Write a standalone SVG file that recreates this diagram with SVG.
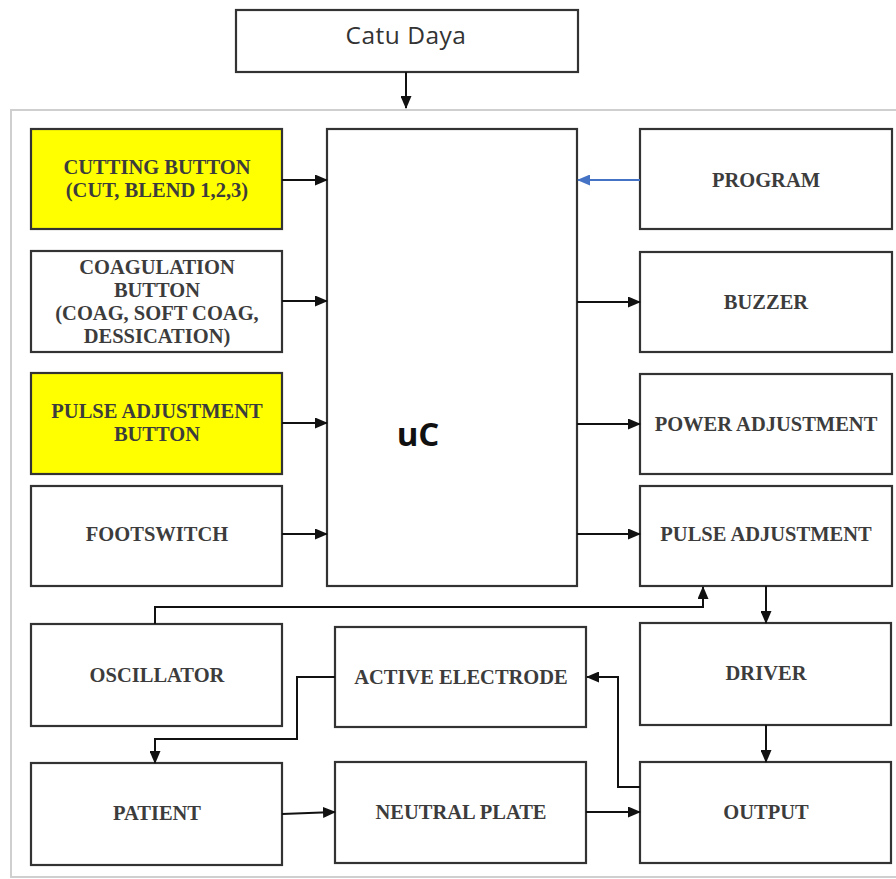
<svg xmlns="http://www.w3.org/2000/svg" width="896" height="879" viewBox="0 0 896 879">
<style>
.box{fill:#fff;stroke:#333;stroke-width:2.2}
.yel{fill:#ffff00;stroke:#333;stroke-width:2.2}
.t{font-family:"Liberation Serif","Times New Roman",serif;font-size:20.5px;font-weight:bold;fill:#3c3c3c;text-anchor:middle}
.c{fill:none;stroke:#111;stroke-width:2}
</style>
<defs>
<marker id="ah" markerWidth="13" markerHeight="11" refX="12" refY="5.5" orient="auto" markerUnits="userSpaceOnUse" viewBox="0 0 13 11">
<path d="M0,0 L13,5.5 L0,11 z" fill="#111"/>
</marker>
<marker id="ahb" markerWidth="13" markerHeight="11" refX="12" refY="5.5" orient="auto" markerUnits="userSpaceOnUse" viewBox="0 0 13 11">
<path d="M0,0 L13,5.5 L0,11 z" fill="#4472c4"/>
</marker>
</defs>
<rect x="0" y="0" width="896" height="879" fill="#fff"/>
<rect x="11" y="110" width="900" height="767" fill="none" stroke="#cfcfcf" stroke-width="2"/>

<g id="catu-daya"><rect class="box" x="236" y="10" width="342" height="62" stroke-width="1.5"/>
<text x="406" y="44" font-family="'Open Sans','Liberation Sans',sans-serif" font-size="24.5" fill="#333" text-anchor="middle" letter-spacing="0.5">Catu Daya</text></g>

<g id="uc"><rect class="box" x="327" y="129" width="250" height="457"/>
<text x="418" y="446" font-family="'Open Sans','Liberation Sans',sans-serif" font-size="33" font-weight="bold" fill="#111" text-anchor="middle">uC</text></g>

<g id="cutting"><rect class="yel" x="31" y="129" width="251" height="100"/>
<text class="t" x="157" y="174">CUTTING BUTTON</text><text class="t" x="157" y="197">(CUT, BLEND 1,2,3)</text></g>
<g id="coagulation"><rect class="box" x="31" y="251" width="251" height="101"/>
<text class="t" x="157" y="274">COAGULATION</text><text class="t" x="157" y="297">BUTTON</text><text class="t" x="157" y="320">(COAG, SOFT COAG,</text><text class="t" x="157" y="343">DESSICATION)</text></g>
<g id="pulse-button"><rect class="yel" x="31" y="373" width="251" height="101"/>
<text class="t" x="157" y="418">PULSE ADJUSTMENT</text><text class="t" x="157" y="441">BUTTON</text></g>
<g id="footswitch"><rect class="box" x="31" y="486" width="251" height="100"/>
<text class="t" x="157" y="541">FOOTSWITCH</text></g>

<g id="program"><rect class="box" x="640" y="129" width="252" height="100"/>
<text class="t" x="766" y="187">PROGRAM</text></g>
<g id="buzzer"><rect class="box" x="640" y="252" width="252" height="100"/>
<text class="t" x="766" y="309">BUZZER</text></g>
<g id="power-adjustment"><rect class="box" x="640" y="374" width="252" height="100"/>
<text class="t" x="766" y="431">POWER ADJUSTMENT</text></g>
<g id="pulse-adjustment"><rect class="box" x="640" y="486" width="252" height="100"/>
<text class="t" x="766" y="541">PULSE ADJUSTMENT</text></g>

<g id="oscillator"><rect class="box" x="31" y="624" width="251" height="102"/>
<text class="t" x="157" y="682">OSCILLATOR</text></g>
<g id="active-electrode"><rect class="box" x="335" y="627" width="251" height="100"/>
<text class="t" x="461" y="684">ACTIVE ELECTRODE</text></g>
<g id="driver"><rect class="box" x="640" y="623" width="251" height="102"/>
<text class="t" x="766" y="680">DRIVER</text></g>
<g id="patient"><rect class="box" x="31" y="763" width="251" height="102"/>
<text class="t" x="157" y="820">PATIENT</text></g>
<g id="neutral-plate"><rect class="box" x="335" y="762" width="251" height="101"/>
<text class="t" x="461" y="819">NEUTRAL PLATE</text></g>
<g id="output"><rect class="box" x="640" y="762" width="251" height="101"/>
<text class="t" x="766" y="819">OUTPUT</text></g>

<g id="connectors">
<path class="c" d="M406,72 V108" marker-end="url(#ah)"/>
<path class="c" d="M282,180 H327" marker-end="url(#ah)"/>
<path class="c" d="M282,301 H327" marker-end="url(#ah)"/>
<path class="c" d="M282,423 H327" marker-end="url(#ah)"/>
<path class="c" d="M282,534 H327" marker-end="url(#ah)"/>
<path d="M640,180 H578" fill="none" stroke="#4472c4" stroke-width="2" marker-end="url(#ahb)"/>
<path class="c" d="M577,302 H640" marker-end="url(#ah)"/>
<path class="c" d="M577,424 H640" marker-end="url(#ah)"/>
<path class="c" d="M577,534 H640" marker-end="url(#ah)"/>
<path class="c" d="M155,624 V607 H703 V587" marker-end="url(#ah)"/>
<path class="c" d="M766,586 V623" marker-end="url(#ah)"/>
<path class="c" d="M766,725 V762" marker-end="url(#ah)"/>
<path class="c" d="M335,677 H297 V739 H155 V763" marker-end="url(#ah)"/>
<path class="c" d="M282,814 L335,812" marker-end="url(#ah)"/>
<path class="c" d="M586,812 H640" marker-end="url(#ah)"/>
<path class="c" d="M640,787 H618 V677 H587" marker-end="url(#ah)"/>
</g>
</svg>
